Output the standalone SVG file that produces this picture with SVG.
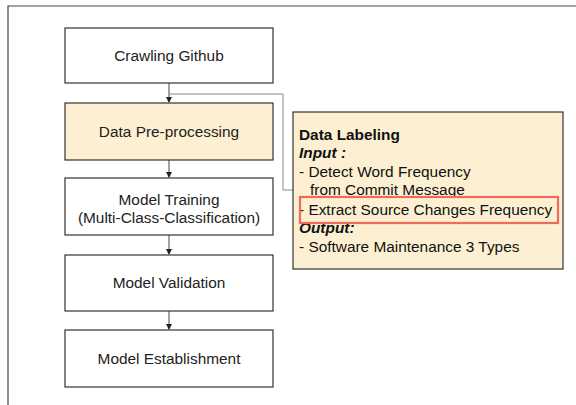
<svg xmlns="http://www.w3.org/2000/svg" width="576" height="405" viewBox="0 0 576 405">
<defs>
<style>
.frame{fill:none;stroke:#444;stroke-width:1.2}
.box{fill:#fff;stroke:#333;stroke-width:1.2}
.hl{fill:#fdf0d2;stroke:#333;stroke-width:1.2}
.t{font-family:"Liberation Sans",Arial,sans-serif;font-size:15.4px;fill:#222;text-anchor:middle}
.d{font-family:"Liberation Sans",Arial,sans-serif;font-size:15.4px;fill:#111}
.b{font-weight:bold}
.i{font-weight:bold;font-style:italic}
.c{fill:none;stroke:#444;stroke-width:1}
.side{fill:none;stroke:#888;stroke-width:1}
</style>
<marker id="ah" markerWidth="6" markerHeight="6" refX="5" refY="3" orient="auto" markerUnits="userSpaceOnUse">
<path d="M0,0 L6,3 L0,6 z" fill="#222"/>
</marker>
</defs>
<rect width="576" height="405" fill="#fff"/>
<path class="frame" d="M8,410 L8,6 L580,6"/>
<g id="connectors">
<line class="c" x1="169" y1="83" x2="169" y2="102" marker-end="url(#ah)"/>
<line class="c" x1="169" y1="160" x2="169" y2="177" marker-end="url(#ah)"/>
<line class="c" x1="169" y1="235" x2="169" y2="254" marker-end="url(#ah)"/>
<line class="c" x1="169" y1="311" x2="169" y2="329" marker-end="url(#ah)"/>
<path class="side" d="M169,94 L283,94 L283,190 L293,190"/>
</g>
<g id="crawling">
<rect class="box" x="65" y="28" width="208" height="55"/>
<text class="t" x="169" y="61">Crawling Github</text>
</g>
<g id="preprocessing">
<rect class="hl" x="65" y="103" width="208" height="57"/>
<text class="t" x="169" y="137">Data Pre-processing</text>
</g>
<g id="training">
<rect class="box" x="65" y="178" width="208" height="57"/>
<text class="t" x="169" y="205">Model Training</text>
<text class="t" x="169" y="223">(Multi-Class-Classification)</text>
</g>
<g id="validation">
<rect class="box" x="65" y="255" width="208" height="56"/>
<text class="t" x="169" y="288">Model Validation</text>
</g>
<g id="establishment">
<rect class="box" x="65" y="330" width="208" height="57"/>
<text class="t" x="169" y="364">Model Establishment</text>
</g>
<g id="labeling">
<rect class="hl" x="293" y="112" width="270" height="157"/>
<text class="d b" x="299" y="140">Data Labeling</text>
<text class="d i" x="299" y="158">Input :</text>
<text class="d" x="299" y="177">- Detect Word Frequency</text>
<text class="d" x="310" y="195">from Commit Message</text>
<text class="d" x="299" y="215">- Extract Source Changes Frequency</text>
<text class="d i" x="299" y="233">Output:</text>
<text class="d" x="299" y="252">- Software Maintenance 3 Types</text>
<rect x="300" y="197" width="258" height="26" fill="none" stroke="#f06a5a" stroke-width="2.2"/>
</g>
</svg>
